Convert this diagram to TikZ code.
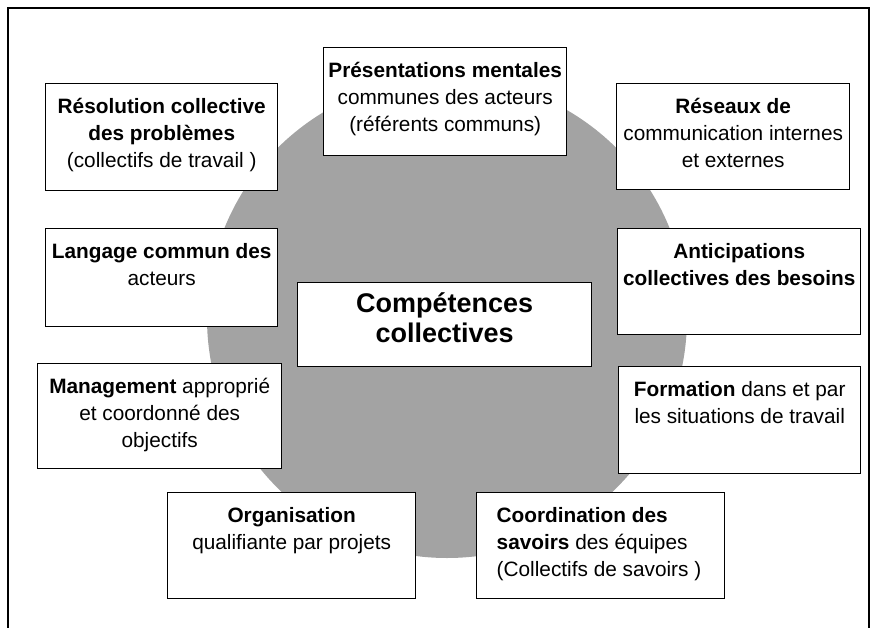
\documentclass[tikz,border=0pt]{standalone}
\usepackage{fontspec}
\setmainfont{Liberation Sans}
\newcommand{\firstl}{\rule{0pt}{29.5pt}}
\newcommand{\bodyf}{\fontsize{20.8}{27}\selectfont}
\tikzset{
  box/.style={draw=black, line width=1.4pt, fill=white, inner sep=0pt, anchor=north west},
  frameline/.style={draw=black, line width=1.4pt},
  disc/.style={fill=black!36, draw=none}
}
\begin{document}
\begin{tikzpicture}[x=1pt,y=-1pt]
\useasboundingbox (0,0) rectangle (880,628);
% outer frame
\coordinate (f1) at (8,628);
\coordinate (f2) at (8,8);
\coordinate (f3) at (869,8);
\coordinate (f4) at (869,628);
\draw[frameline] (f1) -- (f2) -- (f3) -- (f4);
% grey disc
\coordinate (c) at (447,318);
\fill[disc] (c) circle[radius=240];
% boxes
\node[box] (res) at (45,83) {\parbox[c][107pt][t]{232pt}{\centering\bodyf\firstl\textbf{Résolution collective}\\\textbf{des problèmes}\\(collectifs de travail )}};
\node[box] (pre) at (323,47) {\parbox[c][108pt][t]{243pt}{\centering\bodyf\firstl\textbf{Présentations mentales}\\communes des acteurs\\(référents communs)}};
\node[box] (rse) at (616,83) {\parbox[c][106pt][t]{233pt}{\centering\bodyf\firstl\textbf{Réseaux de}\\communication internes\\et externes}};
\node[box] (lan) at (45,228) {\parbox[c][98pt][t]{232pt}{\centering\bodyf\firstl\textbf{Langage commun des}\\acteurs}};
\node[box] (ant) at (617,228) {\parbox[c][106pt][t]{243pt}{\centering\bodyf\firstl\textbf{Anticipations}\\\textbf{collectives des besoins}}};
\node[box] (cen) at (297,282) {\parbox[c][84pt][t]{294pt}{\centering\fontsize{27}{30}\selectfont\rule{0pt}{30pt}\textbf{Compétences}\\\textbf{collectives}}};
\node[box] (man) at (37,363) {\parbox[c][105pt][t]{244pt}{\centering\bodyf\firstl\textbf{Management} approprié\\et coordonné des\\objectifs}};
\node[box] (frm) at (618,366) {\parbox[c][107pt][t]{242pt}{\centering\bodyf\firstl\textbf{Formation} dans et par\\les situations de travail}};
\node[box] (org) at (167,492) {\parbox[c][106pt][t]{248pt}{\centering\bodyf\firstl\textbf{Organisation}\\qualifiante par projets}};
\node[box] (coo) at (476,492) {\parbox[c][106pt][t]{248pt}{\raggedright\leftskip=20pt\bodyf\firstl\textbf{Coordination des}\\\textbf{savoirs} des équipes\\(Collectifs de savoirs )}};
\end{tikzpicture}
\end{document}
